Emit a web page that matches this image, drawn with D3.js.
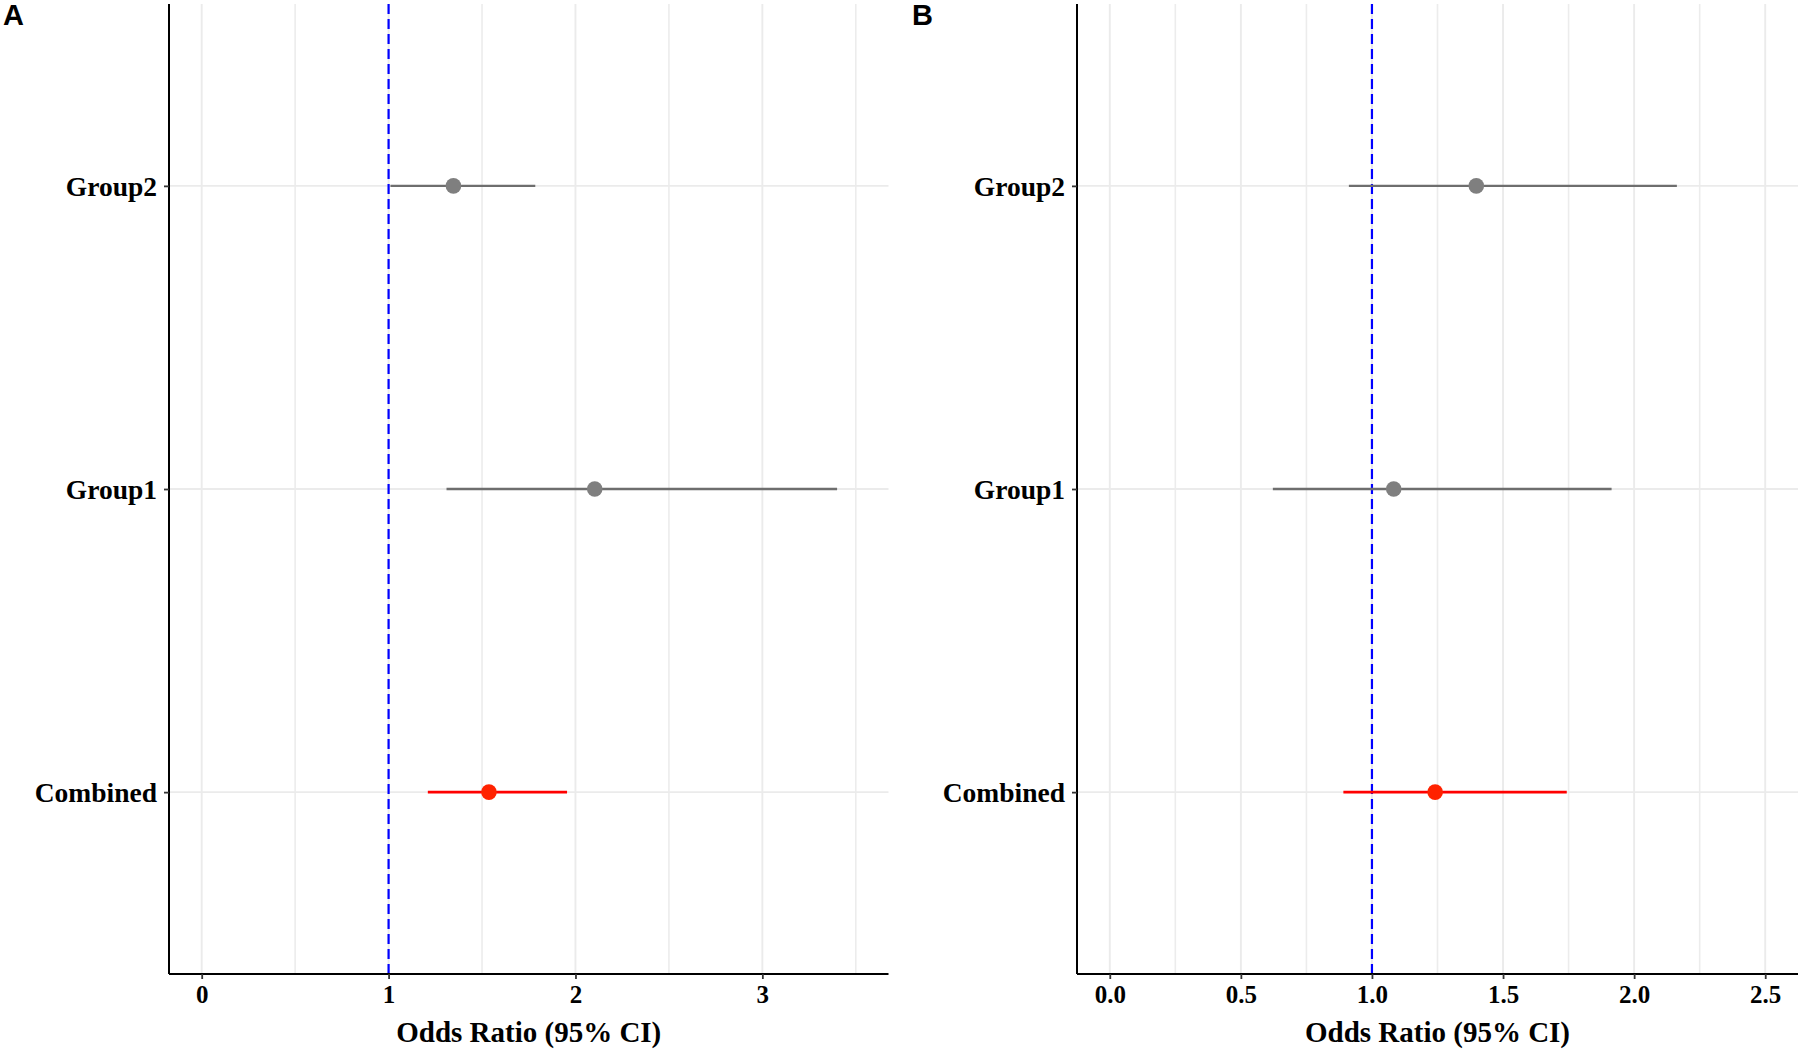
<!DOCTYPE html>
<html>
<head>
<meta charset="utf-8">
<script src="https://cdn.jsdelivr.net/npm/d3@7"></script>
<style>
  html, body { margin: 0; padding: 0; background: #ffffff; }
  svg { display: block; }
</style>
</head>
<body>
<svg id="chart" width="1800" height="1052"></svg>
<script>
// ---- Data ----
const categories = ["Group2", "Group1", "Combined"];

// Panel A
const orA = [1.347, 2.103, 1.537];
const loA = [1.01, 1.31, 1.21];
const hiA = [1.785, 3.40, 1.955];
const limitsA = [0, 3.5];
const ticksA = [0, 1, 2, 3];
const tickLabelsA = ["0", "1", "2", "3"];
const minorA = [0.5, 1.5, 2.5, 3.5];

// Panel B
const orB = [1.398, 1.083, 1.241];
const loB = [0.912, 0.622, 0.891];
const hiB = [2.163, 1.914, 1.743];
const limitsB = [0, 2.5];
const ticksB = [0, 0.5, 1, 1.5, 2, 2.5];
const tickLabelsB = ["0.0", "0.5", "1.0", "1.5", "2.0", "2.5"];
const minorB = [0.25, 0.75, 1.25, 1.75, 2.25];

const refValue = 1;
const seriesColors = ["grey", "grey", "red"];
const panelLetters = ["A", "B"];
const xTitle = "Odds Ratio (95% CI)";

// ---- Layout ----
const svg = d3.select("#chart");
const plotTop = 4, plotBottom = 974;
const panels = [
  {letter: panelLetters[0], left: 169, right: 888.5, letterX: 3, or: orA, lo: loA, hi: hiA, limits: limitsA, ticks: ticksA, labels: tickLabelsA, minor: minorA},
  {letter: panelLetters[1], left: 1077, right: 1798, letterX: 912, or: orB, lo: loB, hi: hiB, limits: limitsB, ticks: ticksB, labels: tickLabelsB, minor: minorB}
];

const serif = "'Liberation Serif', 'Times New Roman', serif";
const pointFill = {grey: "#7f7f7f", red: "#ff2200"};
const lineStroke = {grey: "#6e6e6e", red: "#ff0000"};

panels.forEach(p => {
  const ext = (p.limits[1] - p.limits[0]) * 0.05;
  const x = d3.scaleLinear().domain([p.limits[0] - ext, p.limits[1] + ext]).range([p.left, p.right]);
  const y = d3.scalePoint().domain(categories).range([plotTop, plotBottom]).padding(0.6);

  const g = svg.append("g");

  // grid lines
  const grid = g.append("g");
  grid.selectAll("line.minor").data(p.minor.filter(v => x(v) <= p.right)).join("line")
    .attr("x1", d => x(d)).attr("x2", d => x(d))
    .attr("y1", plotTop).attr("y2", plotBottom)
    .attr("stroke", "#ececec").attr("stroke-width", 1.6);
  grid.selectAll("line.major").data(p.ticks).join("line")
    .attr("x1", d => x(d)).attr("x2", d => x(d))
    .attr("y1", plotTop).attr("y2", plotBottom)
    .attr("stroke", "#ebebeb").attr("stroke-width", 1.9);
  grid.selectAll("line.hmajor").data(categories).join("line")
    .attr("x1", p.left).attr("x2", p.right)
    .attr("y1", d => y(d)).attr("y2", d => y(d))
    .attr("stroke", "#ebebeb").attr("stroke-width", 1.9);

  // reference line
  g.append("line")
    .attr("x1", x(refValue)).attr("x2", x(refValue))
    .attr("y1", plotTop).attr("y2", plotBottom)
    .attr("stroke", "#0000ff").attr("stroke-width", 2.2)
    .attr("stroke-dasharray", "10,5");

  // CI lines
  g.selectAll("line.ci").data(categories).join("line")
    .attr("x1", (d, i) => x(p.lo[i])).attr("x2", (d, i) => x(p.hi[i]))
    .attr("y1", d => y(d)).attr("y2", d => y(d))
    .attr("stroke", (d, i) => lineStroke[seriesColors[i]])
    .attr("stroke-width", (d, i) => seriesColors[i] === "red" ? 2.6 : 2.3);

  // points
  g.selectAll("circle.pt").data(categories).join("circle")
    .attr("cx", (d, i) => x(p.or[i])).attr("cy", d => y(d))
    .attr("r", 7.8)
    .attr("fill", (d, i) => pointFill[seriesColors[i]]);

  // x axis
  const xAxis = d3.axisBottom(x).tickValues(p.ticks)
    .tickFormat((d, i) => p.labels[i]).tickSize(5).tickPadding(6);
  const xg = g.append("g").attr("transform", `translate(0,${plotBottom})`).call(xAxis);
  xg.select(".domain").attr("stroke", "#000").attr("stroke-width", 2)
    .attr("d", `M${p.left},0H${p.right}`);
  xg.selectAll(".tick line").attr("stroke", "#333").attr("stroke-width", 1.8);
  xg.selectAll(".tick text").attr("fill", "#000")
    .style("font-family", serif).style("font-weight", "bold").style("font-size", "25px");

  // y axis
  const yAxis = d3.axisLeft(y).tickSize(5).tickPadding(7);
  const yg = g.append("g").attr("transform", `translate(${p.left},0)`).call(yAxis);
  yg.select(".domain").attr("stroke", "#000").attr("stroke-width", 2)
    .attr("d", `M0,${plotTop}V${plotBottom}`);
  yg.selectAll(".tick line").attr("stroke", "#333").attr("stroke-width", 1.8);
  yg.selectAll(".tick text").attr("fill", "#000").attr("dy", "0.34em")
    .style("font-family", serif).style("font-weight", "bold").style("font-size", "27.5px");

  // x title
  g.append("text")
    .attr("x", (p.left + p.right) / 2).attr("y", 1042)
    .attr("text-anchor", "middle")
    .style("font-family", serif).style("font-weight", "bold").style("font-size", "29px")
    .text(xTitle);

  // panel letter
  g.append("text")
    .attr("x", p.letterX).attr("y", 25)
    .style("font-family", "'Liberation Sans', Arial, sans-serif").style("font-weight", "bold").style("font-size", "29px")
    .text(p.letter);
});
</script>
</body>
</html>
